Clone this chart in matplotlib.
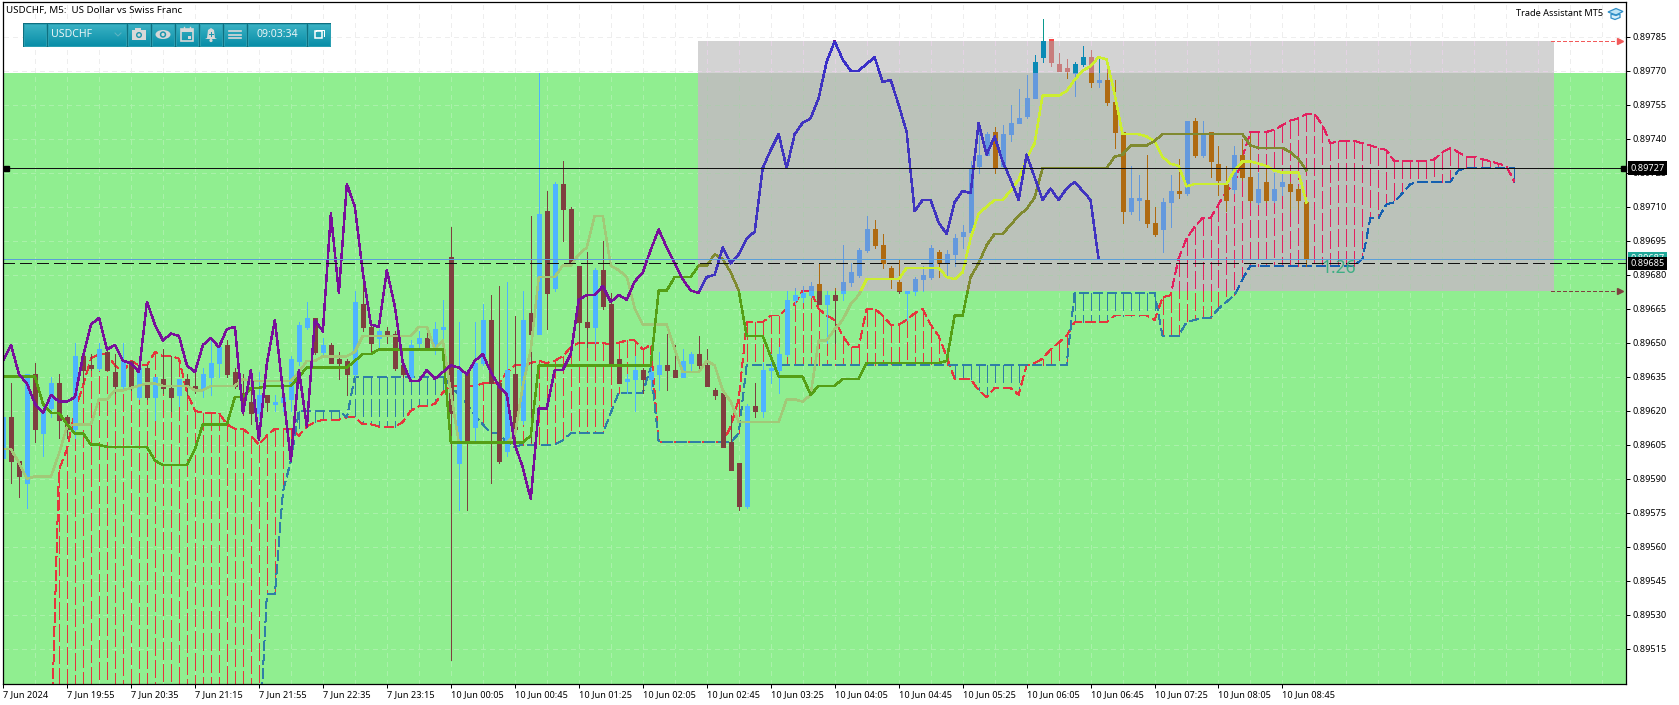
import numpy as np
import matplotlib
matplotlib.use('Agg')
import matplotlib.pyplot as plt
from matplotlib.path import Path
from matplotlib.patches import Rectangle, Polygon, Circle, Ellipse

plt.rcParams['font.family'] = ['Noto Sans', 'DejaVu Sans']
plt.rcParams['lines.scale_dashes'] = False

# quotes are stored as 5 digit integers, 89612 means 0.89612
open_q = [
    89599, 89617, 89598, 89588, 89636, 89610, 89621, 89632, 89617, 89612,
    89644, 89640, 89639, 89646, 89637, 89631, 89642, 89626, 89639, 89626,
    89634, 89630, 89627, 89634, 89631, 89630, 89635, 89641, 89649, 89637,
    89628, 89624, 89619, 89627, 89623, 89624, 89625, 89642, 89657, 89661,
    89646, 89649, 89643, 89642, 89636, 89667, 89657, 89652, 89655, 89654,
    89640, 89635, 89650, 89652, 89647, 89656, 89688, 89597, 89637, 89613,
    89641, 89660, 89632, 89602, 89636, 89616, 89663, 89654, 89708, 89674,
    89720, 89709, 89684, 89659, 89657, 89682, 89667, 89643, 89633, 89634,
    89638, 89634, 89636, 89640, 89638, 89635, 89641, 89645, 89640, 89629,
    89628, 89606, 89597, 89578, 89622, 89620, 89638, 89638, 89645, 89669,
    89670, 89671, 89676, 89667, 89671, 89672, 89677, 89680, 89691, 89700,
    89693, 89683, 89677, 89672, 89673, 89678, 89679, 89690, 89685, 89689,
    89697, 89699, 89728, 89733, 89743, 89728, 89742, 89747, 89750, 89758,
    89776, 89784, 89773, 89771, 89769, 89773, 89776, 89765, 89766, 89756,
    89743, 89708, 89713, 89713, 89703, 89700, 89712, 89717, 89716, 89748,
    89733, 89743, 89729, 89720, 89718, 89733, 89723, 89712, 89721, 89713,
    89719, 89720, 89718, 89712,
]
close_q = [
    89617, 89598, 89591, 89636, 89612, 89620, 89632, 89616, 89612, 89644,
    89638, 89639, 89647, 89638, 89631, 89642, 89630, 89639, 89626, 89635,
    89630, 89626, 89634, 89631, 89630, 89636, 89641, 89648, 89636, 89631,
    89623, 89619, 89627, 89624, 89624, 89626, 89643, 89658, 89661, 89646,
    89649, 89641, 89641, 89636, 89668, 89657, 89650, 89655, 89653, 89639,
    89636, 89649, 89652, 89648, 89656, 89657, 89619, 89638, 89606, 89641,
    89660, 89632, 89598, 89638, 89612, 89660, 89654, 89707, 89672, 89720,
    89709, 89685, 89659, 89657, 89682, 89666, 89641, 89632, 89634, 89638,
    89634, 89637, 89640, 89638, 89635, 89642, 89645, 89640, 89631, 89627,
    89604, 89594, 89578, 89622, 89620, 89638, 89639, 89645, 89669, 89671,
    89672, 89675, 89667, 89671, 89669, 89677, 89681, 89691, 89700, 89693,
    89685, 89678, 89673, 89673, 89678, 89680, 89692, 89685, 89689, 89696,
    89699, 89727, 89733, 89742, 89727, 89742, 89747, 89749, 89758, 89774,
    89783, 89774, 89770, 89770, 89773, 89776, 89765, 89766, 89756, 89743,
    89708, 89714, 89714, 89703, 89698, 89712, 89717, 89716, 89748, 89733,
    89742, 89730, 89722, 89713, 89733, 89723, 89713, 89718, 89713, 89718,
    89721, 89717, 89713, 89687,
]
high_q = [
    89617, 89632, 89598, 89636, 89641, 89622, 89635, 89636, 89618, 89650,
    89647, 89645, 89650, 89648, 89645, 89650, 89642, 89640, 89640, 89635,
    89647, 89644, 89634, 89636, 89637, 89639, 89651, 89650, 89651, 89639,
    89636, 89637, 89637, 89627, 89627, 89627, 89644, 89659, 89668, 89661,
    89652, 89650, 89646, 89643, 89673, 89679, 89658, 89656, 89657, 89655,
    89641, 89651, 89655, 89655, 89659, 89669, 89701, 89659, 89638, 89659,
    89667, 89671, 89675, 89677, 89662, 89673, 89706, 89769, 89717, 89721,
    89730, 89710, 89684, 89690, 89683, 89695, 89672, 89643, 89636, 89644,
    89639, 89639, 89646, 89654, 89649, 89647, 89646, 89653, 89647, 89630,
    89628, 89618, 89597, 89623, 89632, 89641, 89645, 89648, 89673, 89674,
    89675, 89677, 89685, 89673, 89674, 89693, 89685, 89692, 89706, 89704,
    89698, 89684, 89687, 89673, 89679, 89684, 89693, 89691, 89691, 89698,
    89702, 89730, 89747, 89743, 89745, 89746, 89755, 89762, 89768, 89777,
    89793, 89784, 89778, 89775, 89774, 89781, 89779, 89775, 89775, 89766,
    89743, 89728, 89724, 89733, 89710, 89714, 89724, 89731, 89748, 89749,
    89748, 89743, 89737, 89728, 89737, 89740, 89742, 89725, 89726, 89725,
    89725, 89721, 89719, 89712,
]
low_q = [
    89595, 89588, 89582, 89577, 89606, 89600, 89617, 89608, 89608, 89608,
    89632, 89638, 89638, 89638, 89628, 89630, 89629, 89625, 89625, 89616,
    89628, 89620, 89622, 89627, 89628, 89626, 89627, 89635, 89635, 89630,
    89618, 89614, 89616, 89620, 89620, 89620, 89620, 89640, 89656, 89645,
    89645, 89641, 89634, 89627, 89635, 89655, 89645, 89647, 89650, 89638,
    89635, 89634, 89648, 89647, 89645, 89647, 89510, 89576, 89576, 89606,
    89640, 89588, 89597, 89600, 89604, 89614, 89606, 89654, 89656, 89673,
    89695, 89684, 89650, 89648, 89650, 89665, 89640, 89632, 89628, 89620,
    89628, 89629, 89629, 89629, 89635, 89635, 89637, 89639, 89631, 89625,
    89604, 89594, 89576, 89577, 89617, 89617, 89632, 89628, 89644, 89667,
    89668, 89670, 89667, 89650, 89650, 89669, 89675, 89679, 89690, 89692,
    89683, 89674, 89672, 89660, 89671, 89673, 89678, 89679, 89680, 89684,
    89692, 89698, 89725, 89733, 89725, 89727, 89739, 89747, 89749, 89758,
    89774, 89772, 89770, 89767, 89759, 89772, 89763, 89763, 89755, 89736,
    89703, 89707, 89704, 89701, 89697, 89690, 89701, 89714, 89715, 89732,
    89732, 89723, 89715, 89708, 89716, 89722, 89712, 89711, 89712, 89712,
    89715, 89708, 89709, 89684,
]
chikou_q = [
    89642, 89649, 89636, 89632, 89623, 89619, 89627, 89624, 89624, 89626,
    89644, 89658, 89661, 89647, 89649, 89642, 89641, 89637, 89668, 89658,
    89651, 89654, 89653, 89640, 89637, 89649, 89652, 89648, 89656, 89657,
    89619, 89638, 89607, 89641, 89660, 89629, 89598, 89638, 89613, 89660,
    89655, 89707, 89672, 89720, 89710, 89681, 89658, 89657, 89682, 89666,
    89641, 89633, 89633, 89638, 89634, 89637, 89640, 89639, 89636, 89642,
    89645, 89637, 89631, 89627, 89605, 89595, 89581, 89621, 89621, 89638,
    89638, 89645, 89669, 89671, 89671, 89675, 89668, 89671, 89669, 89677,
    89681, 89691, 89700, 89692, 89685, 89678, 89673, 89672, 89679, 89680,
    89692, 89685, 89689, 89696, 89699, 89727, 89735, 89742, 89727, 89742,
    89747, 89749, 89758, 89774, 89783, 89775, 89770, 89770, 89773, 89776,
    89765, 89766, 89755, 89743, 89708, 89713, 89713, 89703, 89698, 89712,
    89717, 89716, 89747, 89733, 89741, 89730, 89722, 89713, 89733, 89723,
    89713, 89718, 89713, 89718, 89721, 89717, 89713, 89687,
]
tenkan_q = [
    89603, 89603, 89597, 89590, 89591, 89591, 89591, 89601, 89613, 89614,
    89614, 89614, 89625, 89625, 89629, 89629, 89630, 89631, 89632, 89632,
    89631, 89631, 89631, 89631, 89629, 89629, 89631, 89631, 89631, 89631,
    89634, 89633, 89633, 89633, 89633, 89633, 89633, 89637, 89642, 89642,
    89644, 89644, 89644, 89644, 89646, 89653, 89653, 89653, 89653, 89653,
    89653, 89653, 89657, 89657, 89647, 89651, 89628, 89606, 89606, 89606,
    89606, 89606, 89606, 89606, 89609, 89631, 89647, 89679, 89679, 89679,
    89684, 89684, 89689, 89692, 89706, 89706, 89684, 89682, 89679, 89665,
    89658, 89658, 89658, 89658, 89647, 89637, 89637, 89637, 89642, 89640,
    89629, 89624, 89615, 89615, 89615, 89615, 89615, 89615, 89625, 89625,
    89624, 89627, 89651, 89651, 89656, 89660, 89667, 89671, 89678, 89678,
    89678, 89678, 89678, 89683, 89683, 89683, 89683, 89683, 89679, 89678,
    89681, 89696, 89707, 89710, 89713, 89713, 89717, 89722, 89731, 89738,
    89759, 89759, 89759, 89761, 89766, 89770, 89772, 89776, 89775, 89760,
    89742, 89742, 89742, 89741, 89739, 89732, 89729, 89728, 89719, 89720,
    89720, 89720, 89720, 89720, 89726, 89730, 89730, 89729, 89728, 89726,
    89725, 89725, 89725, 89712,
]
kijun_q = [
    89635, 89635, 89635, 89635, 89635, 89623, 89619, 89619, 89614, 89610,
    89610, 89605, 89605, 89604, 89604, 89604, 89604, 89604, 89604, 89598,
    89596, 89596, 89596, 89596, 89603, 89614, 89614, 89614, 89614, 89626,
    89626, 89630, 89630, 89631, 89631, 89631, 89631, 89635, 89639, 89639,
    89639, 89639, 89639, 89639, 89642, 89645, 89645, 89647, 89647, 89647,
    89647, 89647, 89647, 89647, 89647, 89647, 89606, 89606, 89606, 89606,
    89606, 89606, 89606, 89606, 89606, 89606, 89609, 89640, 89640, 89640,
    89640, 89640, 89640, 89640, 89640, 89640, 89640, 89640, 89640, 89640,
    89640, 89640, 89673, 89673, 89679, 89679, 89679, 89684, 89684, 89689,
    89687, 89681, 89673, 89653, 89653, 89653, 89644, 89635, 89635, 89635,
    89635, 89627, 89631, 89631, 89631, 89634, 89634, 89634, 89641, 89641,
    89641, 89641, 89641, 89641, 89641, 89641, 89641, 89641, 89642, 89662,
    89662, 89679, 89685, 89693, 89698, 89698, 89702, 89706, 89709, 89714,
    89727, 89727, 89727, 89727, 89727, 89727, 89727, 89727, 89727, 89732,
    89733, 89737, 89737, 89737, 89739, 89742, 89742, 89742, 89742, 89742,
    89742, 89742, 89742, 89742, 89742, 89742, 89737, 89736, 89736, 89736,
    89736, 89734, 89731, 89726,
]
# the cloud starts at bar 6 and runs 26 bars past the last candle
span_start = 6
span_a_q = [
    89470, 89594, 89603, 89620,
    89631, 89643, 89645, 89645, 89640, 89637, 89642, 89640, 89640, 89646,
    89644, 89644, 89643, 89628, 89620, 89619, 89619, 89619, 89614, 89612,
    89612, 89609, 89605, 89609, 89612, 89612, 89612, 89609, 89613, 89615,
    89616, 89616, 89616, 89617, 89617, 89614, 89614, 89613, 89613, 89613,
    89615, 89620, 89622, 89622, 89623, 89628, 89631, 89631, 89631, 89631,
    89632, 89632, 89632, 89637, 89640, 89640, 89641, 89642, 89641, 89642,
    89644, 89648, 89650, 89650, 89650, 89650, 89649, 89650, 89651, 89651,
    89647, 89649, 89606, 89606, 89606, 89606, 89606, 89606, 89606, 89606,
    89606, 89613, 89625, 89659, 89659, 89659, 89662, 89662, 89665, 89667,
    89673, 89673, 89665, 89662, 89660, 89653, 89648, 89648, 89665, 89665,
    89662, 89658, 89658, 89660, 89663, 89665, 89658, 89653, 89644, 89634,
    89634, 89634, 89629, 89626, 89630, 89630, 89630, 89627, 89640, 89641,
    89643, 89647, 89650, 89653, 89659, 89659, 89659, 89659, 89659, 89662,
    89662, 89662, 89662, 89662, 89660, 89670, 89671, 89687, 89696, 89701,
    89705, 89705, 89711, 89717, 89720, 89732, 89743, 89743, 89743, 89744,
    89746, 89748, 89749, 89751, 89751, 89746, 89738, 89739, 89739, 89739,
    89738, 89737, 89736, 89735, 89730, 89730, 89730, 89730, 89730, 89731,
    89734, 89736, 89734, 89732, 89732, 89731, 89730, 89729, 89728, 89721,
]
span_b_q = [
    89470, 89470, 89470, 89470,
    89470, 89470, 89470, 89470, 89470, 89470, 89470, 89470, 89470, 89470,
    89470, 89470, 89470, 89470, 89470, 89470, 89470, 89470, 89470, 89470,
    89470, 89470, 89470, 89539, 89539, 89584, 89598, 89620, 89620, 89620,
    89620, 89620, 89620, 89617, 89635, 89635, 89635, 89635, 89635, 89635,
    89635, 89635, 89635, 89635, 89635, 89635, 89631, 89627, 89623, 89618,
    89614, 89610, 89610, 89606, 89604, 89605, 89605, 89605, 89605, 89605,
    89607, 89610, 89610, 89610, 89610, 89610, 89619, 89628, 89628, 89628,
    89628, 89639, 89606, 89606, 89606, 89606, 89606, 89606, 89606, 89606,
    89606, 89606, 89610, 89640, 89640, 89640, 89640, 89640, 89640, 89640,
    89640, 89640, 89640, 89640, 89640, 89640, 89640, 89640, 89640, 89640,
    89640, 89640, 89640, 89640, 89640, 89640, 89640, 89640, 89640, 89640,
    89640, 89640, 89640, 89640, 89640, 89640, 89640, 89640, 89640, 89640,
    89640, 89640, 89640, 89640, 89672, 89672, 89672, 89672, 89672, 89672,
    89672, 89672, 89672, 89672, 89672, 89653, 89653, 89653, 89659, 89660,
    89661, 89661, 89665, 89668, 89671, 89678, 89684, 89684, 89684, 89684,
    89684, 89684, 89684, 89684, 89684, 89684, 89684, 89684, 89684, 89684,
    89687, 89705, 89705, 89711, 89712, 89716, 89720, 89721, 89721, 89721,
    89721, 89721, 89726, 89727, 89727, 89727, 89727, 89727, 89727, 89727,
]
price_ticks_q = list(range(89785, 89500, -15))
time_labels = ['7 Jun 2024', '7 Jun 19:55', '7 Jun 20:35', '7 Jun 21:15', '7 Jun 21:55',
               '7 Jun 22:35', '7 Jun 23:15', '10 Jun 00:05', '10 Jun 00:45', '10 Jun 01:25',
               '10 Jun 02:05', '10 Jun 02:45', '10 Jun 03:25', '10 Jun 04:05', '10 Jun 04:45',
               '10 Jun 05:25', '10 Jun 06:05', '10 Jun 06:45', '10 Jun 07:25', '10 Jun 08:05',
               '10 Jun 08:45']
current_price_q = 89727
bid_q = 89685
ask_q = 89687
zone_top_q = 89783
zone_bottom_q = 89673
green_top_q = 89769
zone_left_bar = 86.9
zone_right_bar = 194.0

def q(values):
    return np.array(values, dtype=float) / 1e5

o, c, h, l = q(open_q), q(close_q), q(high_q), q(low_q)
bars = np.arange(len(o))
a, b = q(span_a_q), q(span_b_q)
span_x = np.arange(len(a)) + span_start

W, H = 1679, 705
fig = plt.figure(figsize=(W / 100, H / 100), dpi=100, facecolor='white')
left, right, top, bottom = 3, 1626, 2.3, 684
ax = fig.add_axes([left / W, 1 - bottom / H, (right - left) / W, (bottom - top) / H])
x0, x1 = (left - 2.33) / 8, (right - 2.33) / 8
y0, y1 = 0.894994, 0.898002
ax.set_xlim(x0, x1)
ax.set_ylim(y0, y1)

zt, zb, gt = zone_top_q / 1e5, zone_bottom_q / 1e5, green_top_q / 1e5
zl, zr = zone_left_bar, zone_right_bar

# the grey box blends with what is under it, so every mark is drawn once per region
regions = [
    dict(clip=[(x0, y0), (x1, y0), (x1, gt), (zr, gt), (zr, zb), (zl, zb), (zl, gt), (x0, gt)],
         bg='#90ee90', grid='#a9f1a9', up='#4db4ff', down='#7f3f3f', chikou='#78109a',
         tenkan='#a2c878', kijun='#559f15', red='#e5353d', blue='#2f7ea6'),
    dict(clip=[(zl, zb), (zr, zb), (zr, gt), (zl, gt)],
         bg='#bbc2ba', grid='#b0c9b0', up='#6499dd', down='#af6a10', chikou='#4034c0',
         tenkan='#ccee30', kijun='#808a30', red='#e3205f', blue='#1560b0'),
    dict(clip=[(zl, gt), (zr, gt), (zr, zt), (zl, zt)],
         bg='#d3d3d3', grid='#e4d2e4', up='#0a8ab5', down='#c87c7c', chikou='#3a2fc8',
         tenkan='#ccee30', kijun='#808a30', red='#e3205f', blue='#1560b0'),
    dict(clip=[(x0, gt), (zl, gt), (zl, zt), (zr, zt), (zr, gt), (x1, gt), (x1, y1), (x0, y1)],
         bg='white', grid='#eeeeee', up='#0a9a8f', down='#f84848', chikou='#78109a',
         tenkan='#a2c878', kijun='#559f15', red='#e5353d', blue='#2f7ea6'),
]

PX = 0.72  # one pixel in points
THIN = 0.5
BOLD = 1.05
HATCH = (0, (12.5, 3.4))
EDGE = (0, (6.5, 3.5))
GRID = (0, (3.2, 2.9))

def draw_region(reg):
    clip = Path(reg['clip'] + [reg['clip'][0]])
    arts = []
    arts.append(ax.add_patch(Polygon(reg['clip'], closed=True, fc=reg['bg'], ec='none', zorder=1)))
    # grid
    for p in price_ticks_q:
        arts += ax.plot([x0, x1], [p / 1e5, p / 1e5], color=reg['grid'], lw=THIN,
                        ls=GRID, zorder=2, antialiased=False)
    for v in range(0, 204, 4):
        arts += ax.plot([v, v], [y0, y1], color=reg['grid'], lw=THIN,
                        ls=GRID, zorder=2, antialiased=False)
    # cloud hatching, dashes start at the top of each bar
    upper, lower = np.maximum(a, b), np.minimum(a, b)
    for mask, col in ((a > b, reg['red']), (a < b, reg['blue'])):
        arts.append(ax.vlines(span_x[mask], upper[mask], lower[mask], color=col,
                              lw=THIN, ls=HATCH, zorder=3, antialiased=False))
    arts += ax.plot(span_x, a, color=reg['red'], lw=THIN, ls=EDGE, zorder=3, antialiased=False)
    arts += ax.plot(span_x, b, color=reg['blue'], lw=THIN, ls=EDGE, zorder=3, antialiased=False)
    # candles
    rising = c >= o
    for mask, col in ((rising, reg['up']), (~rising, reg['down'])):
        arts.append(ax.vlines(bars[mask], l[mask], h[mask], color=col, lw=THIN, zorder=4, antialiased=False))
        body_lo = np.minimum(o, c)[mask]
        body_hi = np.maximum(o, c)[mask]
        body_hi = np.maximum(body_hi, body_lo + 0.5e-5)
        arts.append(ax.vlines(bars[mask], body_lo, body_hi, color=col, lw=5 * PX, zorder=4, antialiased=False))
    # ichimoku lines
    arts += ax.plot(bars, q(tenkan_q), color=reg['tenkan'], lw=BOLD, zorder=5, antialiased=False)
    arts += ax.plot(bars, q(kijun_q), color=reg['kijun'], lw=BOLD, zorder=6, antialiased=False)
    arts += ax.plot(np.arange(len(chikou_q)), q(chikou_q), color=reg['chikou'], lw=BOLD, zorder=7, antialiased=False)
    for art in arts:
        art.set_clip_path(clip, transform=ax.transData)

for reg in regions:
    draw_region(reg)

# price lines
ax.axhline(ask_q / 1e5, color='#5b9fd8', lw=THIN, zorder=8, antialiased=False)
ax.axhline(bid_q / 1e5, color='#111111', lw=THIN, ls=(0, (8, 3.6)), zorder=8, antialiased=False)
ax.axhline(current_price_q / 1e5, color='#111111', lw=THIN, zorder=8, antialiased=False)
ax.plot([x0 + 0.35, x1 - 0.35], [current_price_q / 1e5] * 2, ls='none', marker='s', ms=3.6, color='black',
        zorder=9, clip_on=False)

# level arrows at the box edges
for lvl, col in ((zt, '#f25a5a'), (zb, '#7f3f3f')):
    ax.plot([zr - 0.4, x1 - 1], [lvl, lvl], color=col, lw=THIN, ls=(0, (2.6, 1.8)), zorder=8, antialiased=False)
    ax.plot([x1 - 0.8], [lvl], marker='>', ms=4.5, color=col, ls='none', zorder=8)

ax.text(167.0, 0.89683, '1.26', color='#3fae84', fontsize=12.5, ha='center', va='center', zorder=9)

# axes
for s in ax.spines.values():
    s.set_linewidth(0.9)
    s.set_color('black')
    s.set_zorder(20)
ax.yaxis.tick_right()
ax.set_yticks([p / 1e5 for p in price_ticks_q])
ax.set_yticklabels(['%.5f' % (p / 1e5) for p in price_ticks_q], fontsize=6.6)
ax.tick_params(axis='y', length=3, width=PX, pad=2, colors='black')
tick_bars = np.arange(0, len(time_labels)) * 8
ax.set_xticks(tick_bars)
ax.set_xticklabels(time_labels, fontsize=6.6, ha='left')
ax.tick_params(axis='x', length=3, width=PX, pad=1.5, colors='black')

lab_tr = ax.get_yaxis_transform()
ax.text(1.0025, ask_q / 1e5, '%.5f' % (ask_q / 1e5), transform=lab_tr, color='white', fontsize=6.6, va='center',
        bbox=dict(fc='#20a898', ec='none', pad=1.6), zorder=30, clip_on=False)
ax.text(1.0025, bid_q / 1e5, '%.5f' % (bid_q / 1e5), transform=lab_tr, color='white', fontsize=6.6, va='center',
        bbox=dict(fc='black', ec='none', pad=1.6), zorder=31, clip_on=False)
ax.text(1.0025, current_price_q / 1e5, '%.5f' % (current_price_q / 1e5), transform=lab_tr, color='white',
        fontsize=6.6, va='center', bbox=dict(fc='black', ec='none', pad=1.6), zorder=31, clip_on=False)

# overlay in pixel coordinates for the trading panel and captions
ov = fig.add_axes([0, 0, 1, 1], facecolor='none')
ov.axis('off')
ov.text(6, 10, 'USDCHF, M5:  US Dollar vs Swiss Franc', fontsize=7, va='center', color='black')
ov.text(1603, 13.5, 'Trade Assistant MT5', fontsize=6.6, va='center', ha='right', color='black')

ov.add_patch(Rectangle((23, 23), 308, 24, fc='#0e6f80', ec='none', zorder=2))
grad = np.linspace(0, 1, 24).reshape(-1, 1)
cols = np.array([0x3a, 0xb2, 0xc4]) * (1 - grad[..., None]) + np.array([0x0a, 0x8e, 0xa8]) * grad[..., None]
for bx0, bx1 in [(24, 46), (48, 126), (128, 150), (152, 174), (176, 198), (200, 222), (224, 246), (248, 306), (308, 330)]:
    ov.imshow(cols / 255, extent=(bx0, bx1, 46, 24), aspect='auto', zorder=3)
    ov.add_patch(Rectangle((bx0, 24), bx1 - bx0, 22, fc='none', ec='#2a9fb2', lw=PX, zorder=4))
ov.text(51, 34.5, 'USDCHF', color='#e8f4f6', fontsize=7.6, va='center', zorder=5)
ov.text(277, 34.5, '09:03:34', color='#e8f4f6', fontsize=7.6, va='center', ha='center', zorder=5)
ov.plot([115, 118, 121], [33, 36, 33], color='#5fb4c2', lw=PX, zorder=5)

ic = '#d8d8d8'
# camera
ov.add_patch(Rectangle((132, 30), 14, 10, fc=ic, ec='none', zorder=5))
ov.add_patch(Rectangle((135, 28), 6, 2, fc=ic, ec='none', zorder=5))
ov.add_patch(Circle((139, 35), 3, fc='#1a96ac', ec='none', zorder=6))
ov.add_patch(Circle((139, 35), 1.6, fc=ic, ec='none', zorder=7))
# eye
ov.add_patch(Ellipse((163, 34.5), 15, 9, fc=ic, ec='none', zorder=5))
ov.add_patch(Circle((163, 34.5), 3.2, fc='#1a96ac', ec='none', zorder=6))
ov.add_patch(Circle((163, 34.5), 1.7, fc=ic, ec='none', zorder=7))
# calendar
ov.add_patch(Rectangle((181, 29), 12, 12, fc='none', ec=ic, lw=1.2, zorder=5))
ov.add_patch(Rectangle((181, 29), 12, 3, fc=ic, ec='none', zorder=5))
ov.add_patch(Rectangle((188, 36), 3, 3, fc=ic, ec='none', zorder=5))
ov.plot([184, 184], [27, 30], color=ic, lw=1, zorder=5)
ov.plot([190, 190], [27, 30], color=ic, lw=1, zorder=5)
# bell
ov.add_patch(Polygon([(211, 28), (214, 30), (215, 38), (217, 39), (205, 39), (207, 38), (208, 30)], fc=ic, ec='none', zorder=5))
ov.add_patch(Circle((211, 40.5), 1.6, fc=ic, ec='none', zorder=5))
ov.plot([209, 213], [33.5, 33.5], color='#1a96ac', lw=PX, zorder=6)
ov.plot([211, 211], [31.5, 35.5], color='#1a96ac', lw=PX, zorder=6)
# menu
for yy in (31, 34.5, 38):
    ov.plot([229, 241], [yy, yy], color=ic, lw=1.2, zorder=5)
# window
ov.add_patch(Rectangle((315, 31), 7, 7, fc='none', ec='white', lw=1.1, zorder=5))
ov.plot([316, 316, 324, 324], [31, 29.5, 29.5, 36], color='white', lw=PX, zorder=5)
# graduation hat
ov.add_patch(Polygon([(1608, 12), (1616, 8.5), (1623, 11.5), (1616, 15)], fc='#bfe4f5', ec='#2f8fc8', lw=0.9, zorder=5))
ov.add_patch(Polygon([(1611, 14), (1611, 18), (1615, 19.5), (1620, 17.5), (1620, 14), (1616, 15.5)], fc='#d8effa', ec='#2f8fc8', lw=0.9, zorder=5))

ov.set_xlim(0, W)
ov.set_ylim(H, 0)

fig.savefig('out.png', dpi=100)
